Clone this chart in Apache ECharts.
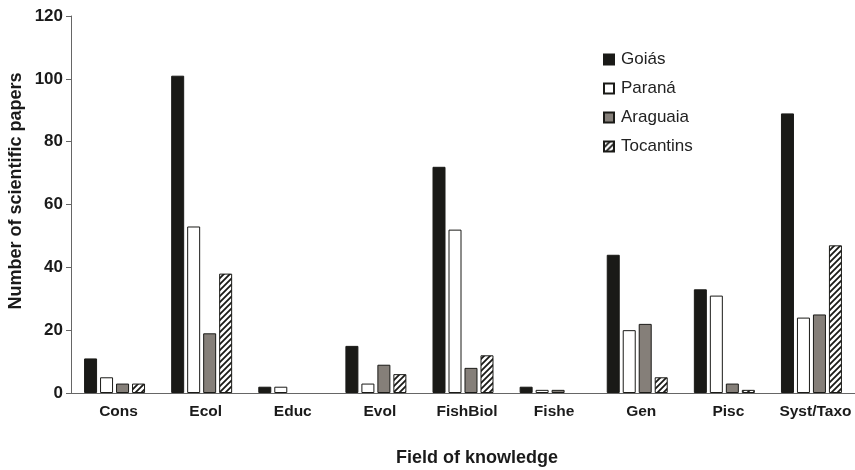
<!DOCTYPE html>
<html>
<head>
<meta charset="utf-8">
<script src="https://cdn.jsdelivr.net/npm/echarts@6/dist/echarts.min.js"></script>
<style>
  html, body { margin: 0; padding: 0; background: #fff; }
  #chart { width: 855px; height: 470px; }
</style>
</head>
<body>
<div id="chart"></div>
<script>
// Fields of knowledge and paper counts per basin
const categories = ['Cons', 'Ecol', 'Educ', 'Evol', 'FishBiol', 'Fishe', 'Gen', 'Pisc', 'Syst/Taxo'];
const goias     = [11, 101, 2, 15, 72, 2, 44, 33, 89];
const parana    = [5, 53, 2, 3, 52, 1, 20, 31, 24];
const araguaia  = [3, 19, 0, 9, 8, 1, 22, 3, 25];
const tocantins = [3, 38, 0, 6, 12, 0, 5, 1, 47];
const yTicks = [0, 20, 40, 60, 80, 100, 120];

// Diagonal hatch pattern for the Tocantins bars
function hatch() {
  const c = document.createElement('canvas');
  c.width = 6; c.height = 6;
  const g = c.getContext('2d');
  g.fillStyle = '#ffffff';
  g.fillRect(0, 0, 6, 6);
  g.strokeStyle = '#1a1a17';
  g.lineWidth = 1.8;
  g.beginPath();
  g.moveTo(-1, 7); g.lineTo(7, -1);
  g.moveTo(-4, 4); g.lineTo(4, -4);
  g.moveTo(2, 10); g.lineTo(10, 2);
  g.stroke();
  return c;
}
const hatchPattern = { image: hatch(), repeat: 'repeat' };

const font = '"Liberation Sans", Arial, sans-serif';
const border = { borderColor: '#1a1a17', borderWidth: 1 };

function bar(name, data, style) {
  return {
    name: name,
    type: 'bar',
    data: data.map(v => (v === 0 ? null : v)),
    barWidth: 13,
    barGap: '23%',
    itemStyle: style
  };
}

const chart = echarts.init(document.getElementById('chart'), null, { renderer: 'canvas' });
chart.setOption({
  animation: false,
  backgroundColor: '#ffffff',
  grid: { left: 71, right: 0, top: 16, bottom: 77, containLabel: false, outerBoundsMode: 'none' },
  legend: {
    orient: 'vertical',
    left: 603,
    top: 51,
    padding: 0,
    icon: 'rect',
    itemWidth: 10,
    itemHeight: 10,
    itemGap: 12,
    textStyle: { fontFamily: font, fontSize: 17, lineHeight: 17, color: '#222', padding: [0, 0, 0, 2] },
    data: ['Goiás', 'Paraná', 'Araguaia', 'Tocantins']
  },
  xAxis: {
    type: 'category',
    data: categories,
    name: 'Field of knowledge',
    nameLocation: 'middle',
    nameGap: 56,
    nameTextStyle: { fontFamily: font, fontSize: 18, fontWeight: 'bold', color: '#1a1a1a', padding: [0, 0, 0, 28] },
    axisLine: { lineStyle: { color: '#666', width: 1 } },
    axisTick: { alignWithLabel: true, length: 4, lineStyle: { color: '#666' } },
    axisLabel: {
      interval: 0, hideOverlap: false,
      fontFamily: font, fontSize: 15.5, fontWeight: 'bold', color: '#1a1a1a', margin: 11, padding: [0, 0, 0, 8]
    }
  },
  yAxis: {
    type: 'value',
    min: yTicks[0],
    max: yTicks[yTicks.length - 1],
    interval: 20,
    name: 'Number of scientific papers',
    nameLocation: 'middle',
    nameRotate: 90,
    nameGap: 46,
    nameMoveOverlap: false,
    nameTextStyle: { fontFamily: font, fontSize: 18, fontWeight: 'bold', color: '#1a1a1a', padding: [0, 0, 0, 27] },
    axisLine: { show: true, lineStyle: { color: '#666', width: 1 } },
    axisTick: { show: true, length: 5, lineStyle: { color: '#666' } },
    splitLine: { show: false },
    axisLabel: { fontFamily: font, fontSize: 17, fontWeight: 'bold', color: '#1a1a1a', margin: 8 }
  },
  series: [
    bar('Goiás', goias, Object.assign({ color: '#1a1a17' }, border)),
    bar('Paraná', parana, Object.assign({ color: '#ffffff' }, border)),
    bar('Araguaia', araguaia, Object.assign({ color: '#857f79' }, border)),
    bar('Tocantins', tocantins, Object.assign({ color: hatchPattern }, border))
  ]
});
</script>
</body>
</html>
